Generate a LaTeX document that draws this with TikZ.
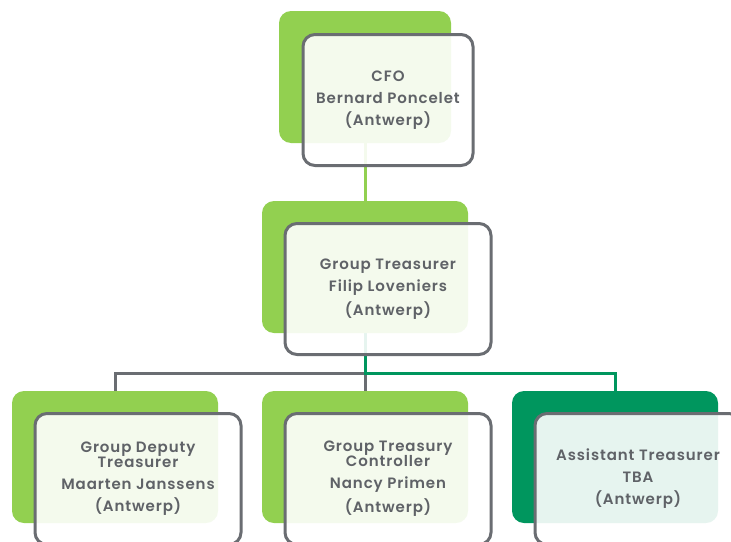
\documentclass[tikz,border=0pt]{standalone}
\usepackage{fontspec}
\setmainfont{Poppins}[BoldFont={* SemiBold}, LetterSpace=6]
\usetikzlibrary{backgrounds}
\definecolor{lime}{RGB}{146,208,80}
\definecolor{deepgreen}{RGB}{0,150,94}
\definecolor{edgegray}{RGB}{106,109,114}
\definecolor{txtgray}{RGB}{95,98,103}
\begin{document}
\begin{tikzpicture}[x=1pt,y=-1pt,
  back/.style={rectangle, rounded corners=12pt, inner sep=0pt,
    minimum width=206pt, minimum height=132pt},
  front/.style={rectangle, rounded corners=12pt, draw=edgegray, line width=3pt,
    fill=white, fill opacity=0.9, text opacity=1, inner sep=0pt,
    minimum width=206pt, minimum height=131pt, align=center, text=txtgray,
    font=\bfseries\fontsize{15}{17}\selectfont},
  link/.style={line width=3pt},
]
\useasboundingbox (0,0) rectangle (731,541);
\clip (0,0) rectangle (731,541);

% coloured back panels
\node[back, fill=lime, minimum width=172pt] (cfoB) at (365,77) {};
\node[back, fill=lime] (gtB) at (365,267) {};
\node[back, fill=lime] (gdtB) at (115,457) {};
\node[back, fill=lime] (gtcB) at (365,457) {};
\node[back, fill=deepgreen] (atB) at (615,457) {};

% split point below the group treasurer
\coordinate (split) at (365,373);

% connectors, underneath the panels
\begin{scope}[on background layer]
  \draw[link, edgegray] (split) -| (gdtB.center);
  \draw[link, edgegray] (split) -- (gtcB.center);
  \draw[link, lime] (cfoB.center) -- (gtB.center);
  \draw[link, deepgreen] (gtB.center) -- (split) -| (atB.center);
\end{scope}

% translucent name cards
\node[front, minimum width=170pt] (cfo) at (388,100)
  {CFO\\[5pt]Bernard Poncelet\\[5pt](Antwerp)};
\node[front] (gt) at (388,289)
  {Group Treasurer\\[5pt]Filip Loveniers\\[5pt](Antwerp)};
\node[front] (gdt) at (138,479)
  {Group Deputy\\[-2pt]Treasurer\\[5pt]Maarten Janssens\\[5pt](Antwerp)};
\node[front] (gtc) at (388,479)
  {Group Treasury\\[-2pt]Controller\\[5pt]Nancy Primen\\[5pt](Antwerp)};
\node[front] (at) at (638,479)
  {Assistant Treasurer\\[5pt]TBA\\[5pt](Antwerp)};
\end{tikzpicture}
\end{document}
